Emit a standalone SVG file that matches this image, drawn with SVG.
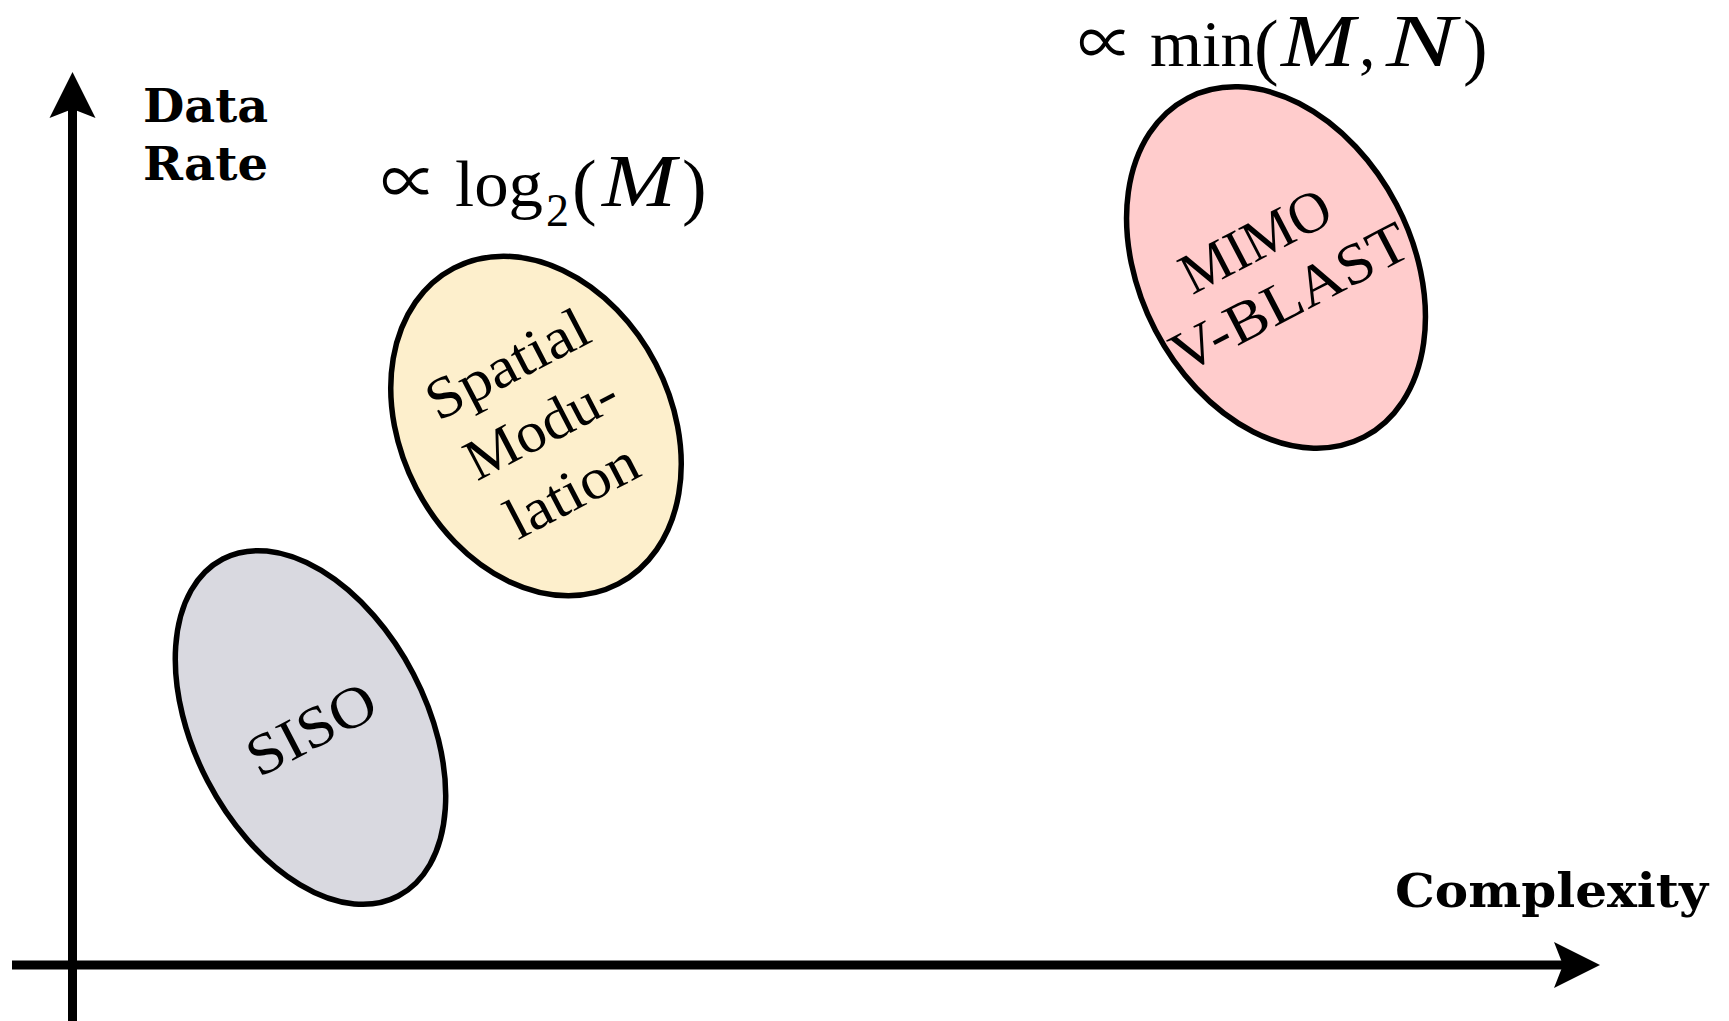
<svg xmlns="http://www.w3.org/2000/svg" width="1729" height="1021" viewBox="0 0 1729 1021">
  <style>
    .axis { stroke: #000; stroke-width: 9; fill: none; }
    .blob { stroke: #000; stroke-width: 5.5; }
    .serif { font-family: "Liberation Serif", "Times New Roman", Times, serif; fill: #000; }
    .axlbl { font-family: "DejaVu Serif", serif; font-weight: bold; font-size: 46.5px; fill: #000; }
    .nodetxt { font-size: 58px; text-anchor: middle; }
    .math { font-size: 66px; }
    .it { font-style: italic; font-size: 75px; }
    .sym { font-family: "Liberation Serif", "Noto Sans CJK JP", "DejaVu Serif", serif; }
  </style>
  <defs>
    <!-- arrowhead; origin sits at the concave back, where the shaft ends -->
    <marker id="head" markerUnits="userSpaceOnUse" orient="auto" overflow="visible"
            markerWidth="1" markerHeight="1" refX="0" refY="0">
      <path d="M37,0 L-9,-23 L0,0 L-9,23 Z" fill="#000"/>
    </marker>
  </defs>

  <!-- axes -->
  <g id="connectors">
    <line class="axis" x1="72.5" y1="1021" x2="72.5" y2="109" marker-end="url(#head)"/>
    <line class="axis" x1="12" y1="965" x2="1563" y2="965" marker-end="url(#head)"/>
  </g>

  <!-- axis titles -->
  <g id="axis-labels">
    <text class="axlbl" x="143" y="122" textLength="125" lengthAdjust="spacingAndGlyphs">Data</text>
    <text class="axlbl" x="143" y="180" textLength="125" lengthAdjust="spacingAndGlyphs">Rate</text>
    <text class="axlbl" x="1395" y="907" textLength="313" lengthAdjust="spacingAndGlyphs">Complexity</text>
  </g>

  <!-- SISO -->
  <g id="siso" transform="translate(310.5,727.5) rotate(-27.5)">
    <ellipse class="blob" cx="0" cy="0" rx="116" ry="190" fill="#d9d9e0"/>
    <text class="serif nodetxt" x="0" y="21" font-size="61" textLength="138" lengthAdjust="spacingAndGlyphs">SISO</text>
  </g>

  <!-- Spatial Modulation -->
  <g id="spatial-modulation" transform="translate(536,426) rotate(-27.5)">
    <ellipse class="blob" cx="0" cy="0" rx="135" ry="178" fill="#fdefcc"/>
    <text class="serif nodetxt" x="3" y="-49" textLength="176" lengthAdjust="spacingAndGlyphs">Spatial</text>
    <text class="serif nodetxt" x="4" y="22" textLength="164" lengthAdjust="spacingAndGlyphs">Modu-</text>
    <text class="serif nodetxt" x="2" y="93" textLength="142" lengthAdjust="spacingAndGlyphs">lation</text>
  </g>

  <!-- MIMO V-BLAST -->
  <g id="mimo-vblast" transform="translate(1276,267.5) rotate(-27.5)">
    <ellipse class="blob" cx="0" cy="0" rx="136" ry="191" fill="#ffcccc"/>
    <text class="serif nodetxt" x="-6" y="-14" font-size="54" textLength="162" lengthAdjust="spacingAndGlyphs">MIMO</text>
    <text class="serif nodetxt" x="-2" y="52" font-size="60" textLength="260" lengthAdjust="spacingAndGlyphs">V-BLAST</text>
  </g>

  <!-- scaling annotations -->
  <g id="rate-annotations">
    <text class="serif math" y="206"><tspan x="381" class="sym" font-size="66" textLength="56" lengthAdjust="spacingAndGlyphs">∝</tspan><tspan x="455" textLength="88" lengthAdjust="spacingAndGlyphs">log</tspan><tspan x="546" y="226" font-size="46">2</tspan><tspan x="572" y="211" font-size="74">(</tspan><tspan x="602" y="206" class="it" textLength="74" lengthAdjust="spacingAndGlyphs">M</tspan><tspan x="682" y="211" font-size="74">)</tspan></text>
    <text class="serif math" y="66"><tspan x="1078" class="sym" font-size="64" textLength="55" lengthAdjust="spacingAndGlyphs">∝</tspan><tspan x="1150" textLength="104" lengthAdjust="spacingAndGlyphs">min</tspan><tspan x="1254" y="71" font-size="74">(</tspan><tspan x="1281" y="66" class="it" textLength="74" lengthAdjust="spacingAndGlyphs">M</tspan><tspan x="1359">,</tspan><tspan x="1386" class="it" textLength="70" lengthAdjust="spacingAndGlyphs">N</tspan><tspan x="1463" y="71" font-size="74">)</tspan></text>
  </g>
</svg>
